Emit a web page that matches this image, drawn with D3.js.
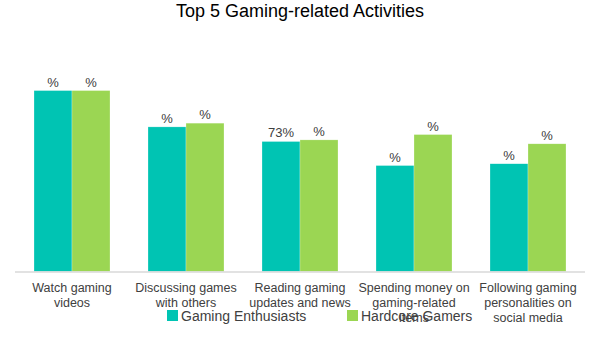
<!DOCTYPE html>
<html>
<head>
<meta charset="utf-8">
<script src="https://cdn.jsdelivr.net/npm/d3@7"></script>
<style>
  html, body { margin: 0; padding: 0; background: #fff; }
  svg { display: block; font-family: Arial, "Liberation Sans", sans-serif; }
</style>
</head>
<body>
<svg id="chart" width="600" height="350"></svg>
<script>
// Activity categories and the share of each audience doing them
const categories = [
  "Watch gaming videos",
  "Discussing games with others",
  "Reading gaming updates and news",
  "Spending money on gaming-related items",
  "Following gaming personalities on social media"
];
const seriesNames = ["Gaming Enthusiasts", "Hardcore Gamers"];
const enthusiasts = [101.6, 81.2, 73, 59.5, 60.5];
const hardcore = [101.6, 83.3, 73.9, 76.9, 71.7];
// Value labels as shown above each bar
const enthusiastLabels = ["%", "%", "73%", "%", "%"];
const hardcoreLabels = ["%", "%", "%", "%", "%"];
const colors = ["#00c4b3", "#9bd653"];

const svg = d3.select("#chart");
const left = 15, right = 585, baseY = 271.5;

const x0 = d3.scaleBand().domain(categories).range([left, right])
  .paddingInner(1 / 3).paddingOuter(1 / 6);
const x1 = d3.scaleBand().domain(seriesNames).range([0, x0.bandwidth()]);
const y = d3.scaleLinear().domain([0, 110]).range([baseY, baseY - 110 * 1.781]);

const rows = categories.map((c, i) => ({
  cat: c,
  vals: [
    { s: seriesNames[0], v: enthusiasts[i], label: enthusiastLabels[i] },
    { s: seriesNames[1], v: hardcore[i], label: hardcoreLabels[i] }
  ]
}));

// Title
svg.append("text")
  .attr("x", 300).attr("y", 17)
  .attr("text-anchor", "middle")
  .attr("font-size", 18)
  .attr("fill", "#000")
  .text("Top 5 Gaming-related Activities");

// Bars
const groups = svg.append("g").selectAll("g").data(rows).join("g")
  .attr("transform", d => `translate(${x0(d.cat)},0)`);

groups.selectAll("rect").data(d => d.vals).join("rect")
  .attr("x", d => x1(d.s))
  .attr("y", d => y(d.v))
  .attr("width", x1.bandwidth())
  .attr("height", d => y(0) - y(d.v))
  .attr("fill", (d, i) => colors[i])
  .attr("stroke", "#ffffff")
  .attr("stroke-opacity", 0.5)
  .attr("stroke-width", 0.5);

groups.selectAll("text.val").data(d => d.vals).join("text")
  .attr("class", "val")
  .attr("x", d => x1(d.s) + x1.bandwidth() / 2)
  .attr("y", d => y(d.v) - 4)
  .attr("text-anchor", "middle")
  .attr("font-size", 13)
  .attr("fill", "#404040")
  .text(d => d.label);

// Category axis
const xAxis = svg.append("g")
  .attr("transform", `translate(0,${baseY})`)
  .call(d3.axisBottom(x0).tickSize(0).tickPadding(0));
xAxis.select(".domain").attr("stroke", "#d9d9d9").attr("stroke-width", 1.3)
  .attr("d", `M${left},0.5H${right}`);

function wrap(textSel, width) {
  textSel.each(function () {
    const t = d3.select(this);
    const words = t.text().split(/\s+/);
    t.text(null);
    let line = [];
    let tspan = t.append("tspan").attr("x", 0).attr("dy", 0);
    for (const w of words) {
      line.push(w);
      tspan.text(line.join(" "));
      if (tspan.node().getComputedTextLength() > width && line.length > 1) {
        line.pop();
        tspan.text(line.join(" "));
        line = [w];
        tspan = t.append("tspan").attr("x", 0).attr("dy", 15).text(w);
      }
    }
  });
}

xAxis.selectAll(".tick text")
  .attr("font-size", 12.5)
  .attr("font-family", "Arial, 'Liberation Sans', sans-serif")
  .attr("fill", "#404040")
  .attr("y", 20)
  .attr("dy", 0)
  .call(wrap, 114);

// Legend
const legendItems = [
  { name: seriesNames[0], x: 167 },
  { name: seriesNames[1], x: 347 }
];
const legend = svg.append("g").selectAll("g").data(legendItems).join("g")
  .attr("transform", d => `translate(${d.x},310)`);
legend.append("rect")
  .attr("width", 11).attr("height", 11)
  .attr("fill", (d, i) => colors[i]);
legend.append("text")
  .attr("x", 14).attr("y", 10.5)
  .attr("font-size", 14)
  .attr("fill", "#404040")
  .text(d => d.name);
</script>
</body>
</html>
